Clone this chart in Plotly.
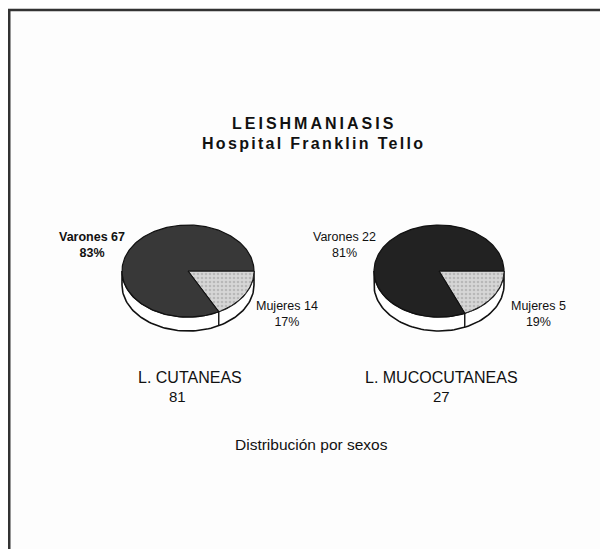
import math
import plotly.graph_objects as go

# ---- data ----
categories = ["Varones", "Mujeres"]
cutaneas = [67, 14]
mucocutaneas = [22, 5]
group_names = ["L. CUTANEAS", "L. MUCOCUTANEAS"]
title_line1 = "LEISHMANIASIS"
title_line2 = "Hospital Franklin Tello"
footer = "Distribución por sexos"

# page body has an 8px margin: figure drawn at (8,8) in the 608x549 window
OFF = 8
WIN_W, WIN_H = 608, 549
W, H = WIN_W - OFF, WIN_H - OFF
FONT = "Liberation Sans, Arial, sans-serif"

# pie layout (window-pixel axes)
pies = [
    dict(vals=cutaneas, name=group_names[0], cx=188, cy=271, a=66, b=46, d=14,
         dark="#383838", lab_v=(92, 245), lab_m=(287, 314), bold_v=True,
         name_pos=(190, 377), tot_pos=(177, 396)),
    dict(vals=mucocutaneas, name=group_names[1], cx=439, cy=271, a=65, b=46, d=14,
         dark="#222222", lab_v=(344, 245), lab_m=(538, 314), bold_v=False,
         name_pos=(441, 377), tot_pos=(441, 396)),
]


def arc(cx, cy, a, b, t0, t1, dy=0, n=80):
    xs, ys = [], []
    for i in range(n + 1):
        t = math.radians(t0 + (t1 - t0) * i / n)
        xs.append(cx + a * math.cos(t))
        ys.append(cy + b * math.sin(t) + dy)
    return xs, ys


fig = go.Figure()
annotations = []

for p in pies:
    vals = p["vals"]
    total = sum(vals)
    fm = vals[1] / total
    tm = 360 * fm
    cx, cy, a, b, d = p["cx"], p["cy"], p["a"], p["b"], p["d"]

    # side band (front half)
    xt, yt = arc(cx, cy, a, b, 0, 180)
    xb, yb = arc(cx, cy, a, b, 0, 180, dy=d)
    fig.add_trace(go.Scatter(x=xt + xb[::-1] + [xt[0]], y=yt + yb[::-1] + [yt[0]],
                             mode="lines", fill="toself", fillcolor="white",
                             line=dict(color="#111", width=1.6), hoverinfo="skip"))
    # divider on side
    if 0 < tm < 180:
        tr = math.radians(tm)
        x0 = cx + a * math.cos(tr)
        y0 = cy + b * math.sin(tr)
        fig.add_trace(go.Scatter(x=[x0, x0], y=[y0, y0 + d], mode="lines",
                                 line=dict(color="#111", width=1.4), hoverinfo="skip"))
    # top: Mujeres slice
    xs, ys = arc(cx, cy, a, b, 0, tm)
    fig.add_trace(go.Scatter(x=[cx] + xs + [cx], y=[cy] + ys + [cy], mode="lines",
                             fill="toself", fillcolor="#cfcfcf",
                             fillpattern=dict(shape=".", bgcolor="#d6d6d6", fgcolor="#9a9a9a",
                                              size=4, solidity=0.35),
                             line=dict(color="#222", width=1), hoverinfo="skip"))
    # top: Varones slice
    xs, ys = arc(cx, cy, a, b, tm, 360, n=200)
    fig.add_trace(go.Scatter(x=[cx] + xs + [cx], y=[cy] + ys + [cy], mode="lines",
                             fill="toself", fillcolor=p["dark"],
                             line=dict(color="#111", width=1.2), hoverinfo="skip"))

    pv = round(vals[0] / total * 100)
    pm = round(vals[1] / total * 100)
    tv = f"{categories[0]} {vals[0]}<br>{pv}%"
    if p["bold_v"]:
        tv = f"<b>{categories[0]} {vals[0]}</b><br><b>{pv}%</b>"
    annotations.append(dict(x=p["lab_v"][0], y=p["lab_v"][1], text=tv, showarrow=False,
                            xref="x", yref="y", align="center",
                            font=dict(size=12.5, color="#111", family=FONT)))
    annotations.append(dict(x=p["lab_m"][0], y=p["lab_m"][1],
                            text=f"{categories[1]} {vals[1]}<br>{pm}%", showarrow=False,
                            xref="x", yref="y", align="center",
                            font=dict(size=12.5, color="#111", family=FONT)))
    annotations.append(dict(x=p["name_pos"][0], y=p["name_pos"][1], text=p["name"],
                            showarrow=False, xref="x", yref="y",
                            font=dict(size=16, color="#111", family=FONT)))
    annotations.append(dict(x=p["tot_pos"][0], y=p["tot_pos"][1], text=str(total),
                            showarrow=False, xref="x", yref="y",
                            font=dict(size=15, color="#111", family=FONT)))

annotations.append(dict(x=314, y=123,
                        text=f'<b><span style="letter-spacing:3px">{title_line1}</span></b>',
                        showarrow=False, xref="x", yref="y",
                        font=dict(size=16, color="#111", family=FONT)))
annotations.append(dict(x=313, y=143,
                        text=f'<b><span style="letter-spacing:2.3px">{title_line2}</span></b>',
                        showarrow=False, xref="x", yref="y",
                        font=dict(size=16, color="#111", family=FONT)))
annotations.append(dict(x=311, y=444, text=footer, showarrow=False, xref="x", yref="y",
                        font=dict(size=15.5, color="#111", family=FONT)))

shapes = [
    dict(type="line", xref="x", yref="y", x0=9, x1=9, y0=9, y1=WIN_H,
         line=dict(color="#333", width=3)),
    dict(type="line", xref="x", yref="y", x0=8, x1=WIN_W, y0=10, y1=10,
         line=dict(color="#333", width=2.5)),
]

fig.update_layout(
    width=W, height=H,
    margin=dict(l=0, r=0, t=0, b=0),
    paper_bgcolor="#fdfdfd", plot_bgcolor="#fdfdfd",
    showlegend=False,
    xaxis=dict(range=[OFF, WIN_W], visible=False, fixedrange=True),
    yaxis=dict(range=[WIN_H, OFF], visible=False, fixedrange=True),
    annotations=annotations,
    shapes=shapes,
)

fig.write_html("out.html")
